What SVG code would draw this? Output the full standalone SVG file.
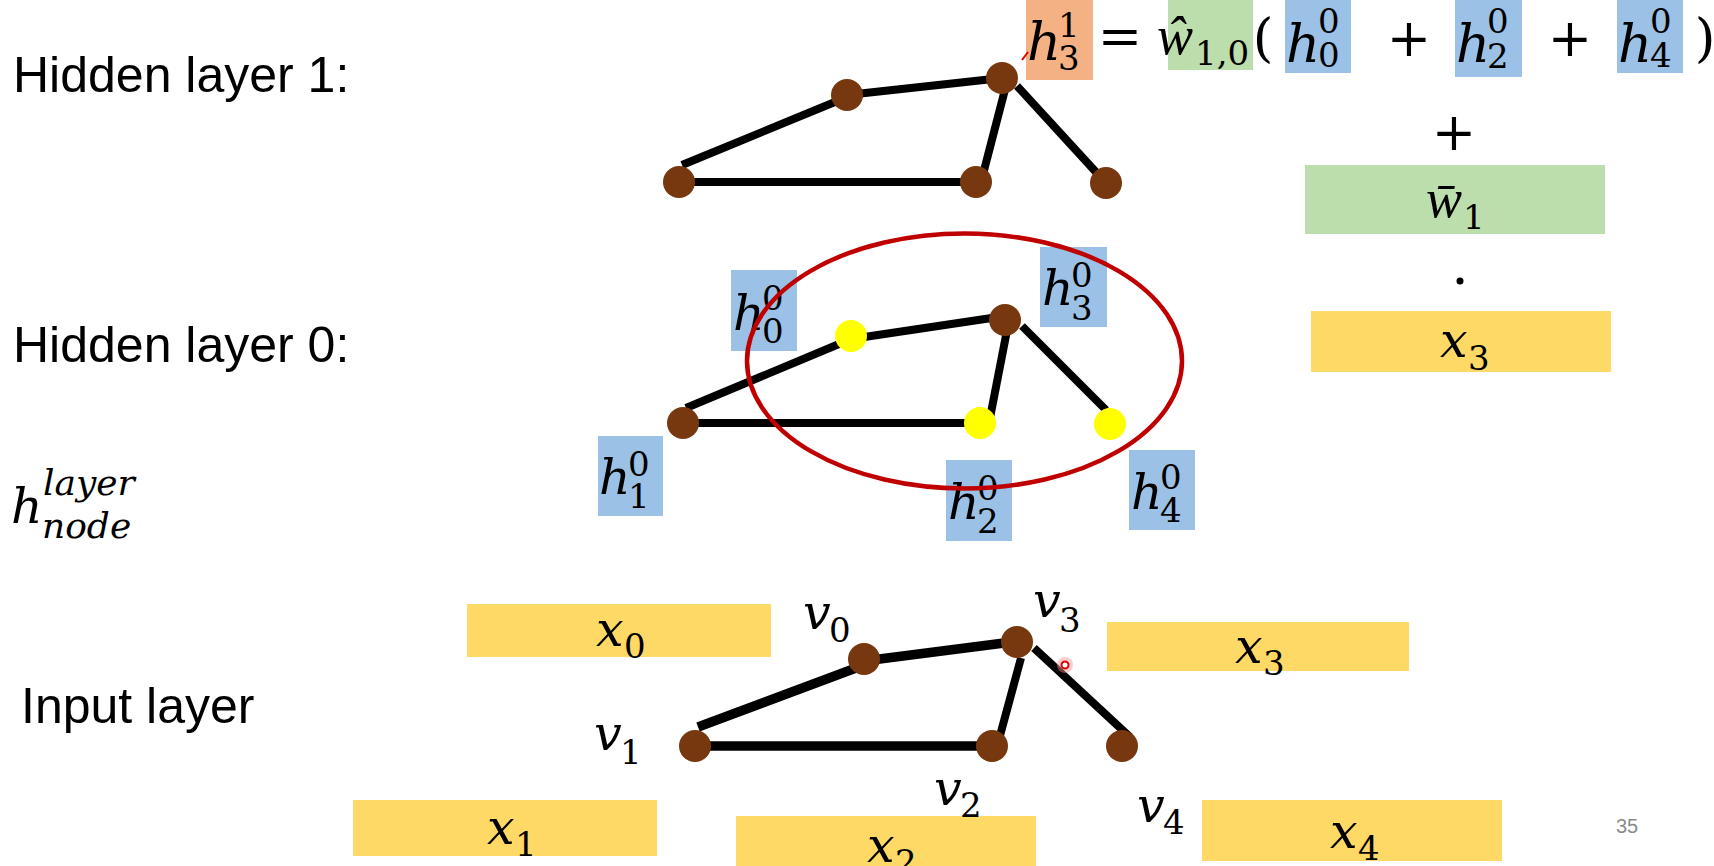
<svg xmlns="http://www.w3.org/2000/svg" width="1714" height="866" viewBox="0 0 1714 866">
<style>
.lbl{font-family:"Liberation Sans",Arial,sans-serif;font-size:50px;fill:#000}
.mi{font-family:"DejaVu Serif",serif;font-style:italic;font-size:49px;fill:#000}
.me{font-family:"DejaVu Serif",serif;font-style:italic;font-size:53px;fill:#000}
.mw{font-family:"Liberation Serif",serif;font-style:italic;font-size:54px;fill:#000}
.sc{font-family:"DejaVu Serif",serif;font-size:34px;fill:#000}
.si{font-family:"DejaVu Serif",serif;font-style:italic;font-size:36px;fill:#000}
.op{font-family:"DejaVu Serif",serif;font-size:53px;fill:#000;text-anchor:middle}
.blue{fill:#9BC2E6}
.gold{fill:#FFD966}
.green{fill:#BCDDAC}
.orange{fill:#F4B183}
.edge{stroke:#000;stroke-width:8;fill:none}
.edge9{stroke:#000;stroke-width:9.5;fill:none}
.brown{fill:#78380F}
.yel{fill:#FFFF00}
</style>

<!-- left titles -->
<g id="titles">
<text class="lbl" x="13" y="92">Hidden layer 1:</text>
<text class="lbl" x="13" y="362">Hidden layer 0:</text>
<text class="lbl" x="21" y="723">Input layer</text>
<g id="notation">
<text class="mi" x="11" y="523">h</text>
<text class="si" x="43" y="495">layer</text>
<text class="si" x="42" y="538">node</text>
</g>
</g>

<!-- equation -->
<g id="equation">
<rect class="orange" x="1026" y="0" width="67" height="80"/>
<rect class="green" x="1168" y="0" width="85" height="70"/>
<rect class="blue" x="1285" y="0" width="66" height="73"/>
<rect class="blue" x="1455" y="0" width="67" height="77"/>
<rect class="blue" x="1617" y="0" width="66" height="73"/>
<line x1="1022" y1="60" x2="1028" y2="52" stroke="#E00000" stroke-width="2"/>
<text class="me" x="1027" y="60">h</text>
<text class="sc" x="1058" y="37">1</text>
<text class="sc" x="1058" y="70">3</text>
<text class="op" x="1120" y="54">=</text>
<text class="mw" x="1157" y="54">ŵ</text>
<text class="sc" x="1195" y="65">1,0</text>
<text class="op" x="1263" y="56">(</text>
<text class="me" x="1286" y="62">h</text>
<text class="sc" x="1318" y="33">0</text>
<text class="sc" x="1318" y="67">0</text>
<text class="op" x="1409" y="56">+</text>
<text class="me" x="1456" y="62">h</text>
<text class="sc" x="1487" y="33">0</text>
<text class="sc" x="1487" y="68">2</text>
<text class="op" x="1570" y="56">+</text>
<text class="me" x="1618" y="62">h</text>
<text class="sc" x="1650" y="33">0</text>
<text class="sc" x="1650" y="67">4</text>
<text class="op" x="1705" y="56">)</text>
<text class="op" x="1454" y="150">+</text>
<rect class="green" x="1305" y="165" width="300" height="69"/>
<text class="mw" x="1426" y="217">w̄</text>
<text class="sc" x="1463" y="229">1</text>
<circle cx="1460" cy="281" r="3.5" fill="#000"/>
<rect class="gold" x="1311" y="311" width="300" height="61"/>
<text class="mi" x="1440" y="357">x</text>
<text class="sc" x="1468" y="370">3</text>
</g>

<!-- input feature boxes -->
<g id="features">
<g id="x0"><rect class="gold" x="467" y="604" width="304" height="53"/><text class="mi" x="596" y="646">x</text><text class="sc" x="624" y="658">0</text></g>
<g id="x1"><rect class="gold" x="353" y="800" width="304" height="56"/><text class="mi" x="487" y="844">x</text><text class="sc" x="515" y="856">1</text></g>
<g id="x2"><rect class="gold" x="736" y="816" width="300" height="54"/><text class="mi" x="867" y="862">x</text><text class="sc" x="895" y="874">2</text></g>
<g id="x3"><rect class="gold" x="1107" y="622" width="302" height="49"/><text class="mi" x="1235" y="663">x</text><text class="sc" x="1263" y="675">3</text></g>
<g id="x4"><rect class="gold" x="1202" y="800" width="300" height="61"/><text class="mi" x="1330" y="848">x</text><text class="sc" x="1358" y="860">4</text></g>
</g>

<!-- hidden layer 0 labels -->
<g id="h0labels">
<g id="lab_h00"><rect class="blue" x="731" y="270" width="66" height="81"/><text class="mi" x="733" y="330">h</text><text class="sc" x="762" y="310">0</text><text class="sc" x="762" y="343">0</text></g>
<g id="lab_h30"><rect class="blue" x="1040" y="247" width="67" height="80"/><text class="mi" x="1042" y="305">h</text><text class="sc" x="1071" y="287">0</text><text class="sc" x="1071" y="320">3</text></g>
<g id="lab_h10"><rect class="blue" x="598" y="436" width="65" height="80"/><text class="mi" x="599" y="494">h</text><text class="sc" x="628" y="476">0</text><text class="sc" x="628" y="508">1</text></g>
<g id="lab_h20"><rect class="blue" x="946" y="460" width="66" height="81"/><text class="mi" x="948" y="519">h</text><text class="sc" x="977" y="500">0</text><text class="sc" x="977" y="533">2</text></g>
<g id="lab_h40"><rect class="blue" x="1129" y="450" width="66" height="80"/><text class="mi" x="1131" y="509">h</text><text class="sc" x="1160" y="489">0</text><text class="sc" x="1160" y="522">4</text></g>
</g>

<!-- connectors -->
<g id="connectors">
<line class="edge" x1="682" y1="165" x2="847" y2="97"/>
<line class="edge" x1="847" y1="95" x2="1002" y2="78"/>
<line class="edge" x1="1008" y1="78" x2="981" y2="182"/>
<line class="edge" x1="1017" y1="86" x2="1106" y2="183"/>
<line class="edge" x1="679" y1="182" x2="976" y2="182"/>

<line class="edge" x1="686" y1="408" x2="851" y2="339"/>
<line class="edge" x1="851" y1="339" x2="1005" y2="316"/>
<line class="edge" x1="1009" y1="320" x2="989" y2="423"/>
<line class="edge" x1="1022" y1="326" x2="1106" y2="410"/>
<line class="edge" x1="683" y1="423" x2="980" y2="423"/>

<line class="edge9" x1="698" y1="727" x2="864" y2="665"/>
<line class="edge9" x1="864" y1="661" x2="1012" y2="642"/>
<line class="edge" x1="1021" y1="658" x2="998" y2="743"/>
<line class="edge" x1="1034" y1="648" x2="1130" y2="737"/>
<line class="edge9" x1="695" y1="746" x2="992" y2="746"/>
</g>

<!-- hidden layer 1 nodes -->
<g id="h1_v1"><circle class="brown" cx="679" cy="182" r="16"/></g>
<g id="h1_v0"><circle class="brown" cx="847" cy="95" r="16"/></g>
<g id="h1_v3"><circle class="brown" cx="1002" cy="78" r="16"/></g>
<g id="h1_v2"><circle class="brown" cx="976" cy="182" r="16"/></g>
<g id="h1_v4"><circle class="brown" cx="1106" cy="183" r="16"/></g>

<!-- hidden layer 0 nodes -->
<g id="h0_v1"><circle class="brown" cx="683" cy="423" r="16"/></g>
<g id="h0_v0"><circle class="yel" cx="851" cy="336" r="16"/></g>
<g id="h0_v3"><circle class="brown" cx="1005" cy="320" r="16"/></g>
<g id="h0_v2"><circle class="yel" cx="980" cy="423" r="16"/></g>
<g id="h0_v4"><circle class="yel" cx="1110" cy="424" r="16"/></g>

<!-- input layer nodes -->
<g id="in_v1"><circle class="brown" cx="695" cy="746" r="16"/><text class="mi" x="594" y="750">v</text><text class="sc" x="620" y="764">1</text></g>
<g id="in_v0"><circle class="brown" cx="864" cy="659" r="16"/><text class="mi" x="803" y="629">v</text><text class="sc" x="829" y="642">0</text></g>
<g id="in_v3"><circle class="brown" cx="1017" cy="642" r="16"/><text class="mi" x="1033" y="617">v</text><text class="sc" x="1059" y="632">3</text></g>
<g id="in_v2"><circle class="brown" cx="992" cy="746" r="16"/><text class="mi" x="934" y="805">v</text><text class="sc" x="960" y="817">2</text></g>
<g id="in_v4"><circle class="brown" cx="1122" cy="746" r="16"/><text class="mi" x="1137" y="822">v</text><text class="sc" x="1163" y="834">4</text></g>

<!-- neighbourhood ellipse -->
<g id="neighbourhood"><ellipse cx="964.5" cy="361" rx="217.5" ry="127.5" fill="none" stroke="#C00000" stroke-width="4.5"/></g>

<!-- laser pointer -->
<g id="pointer"><circle cx="1065" cy="665" r="8" fill="#FF9090" opacity="0.45"/><circle cx="1065" cy="665" r="3.5" fill="#fff" stroke="#E00000" stroke-width="2"/></g>

<text x="1616" y="833" font-family="Liberation Sans, Arial, sans-serif" font-size="20" fill="#8A8A8A">35</text>
</svg>
